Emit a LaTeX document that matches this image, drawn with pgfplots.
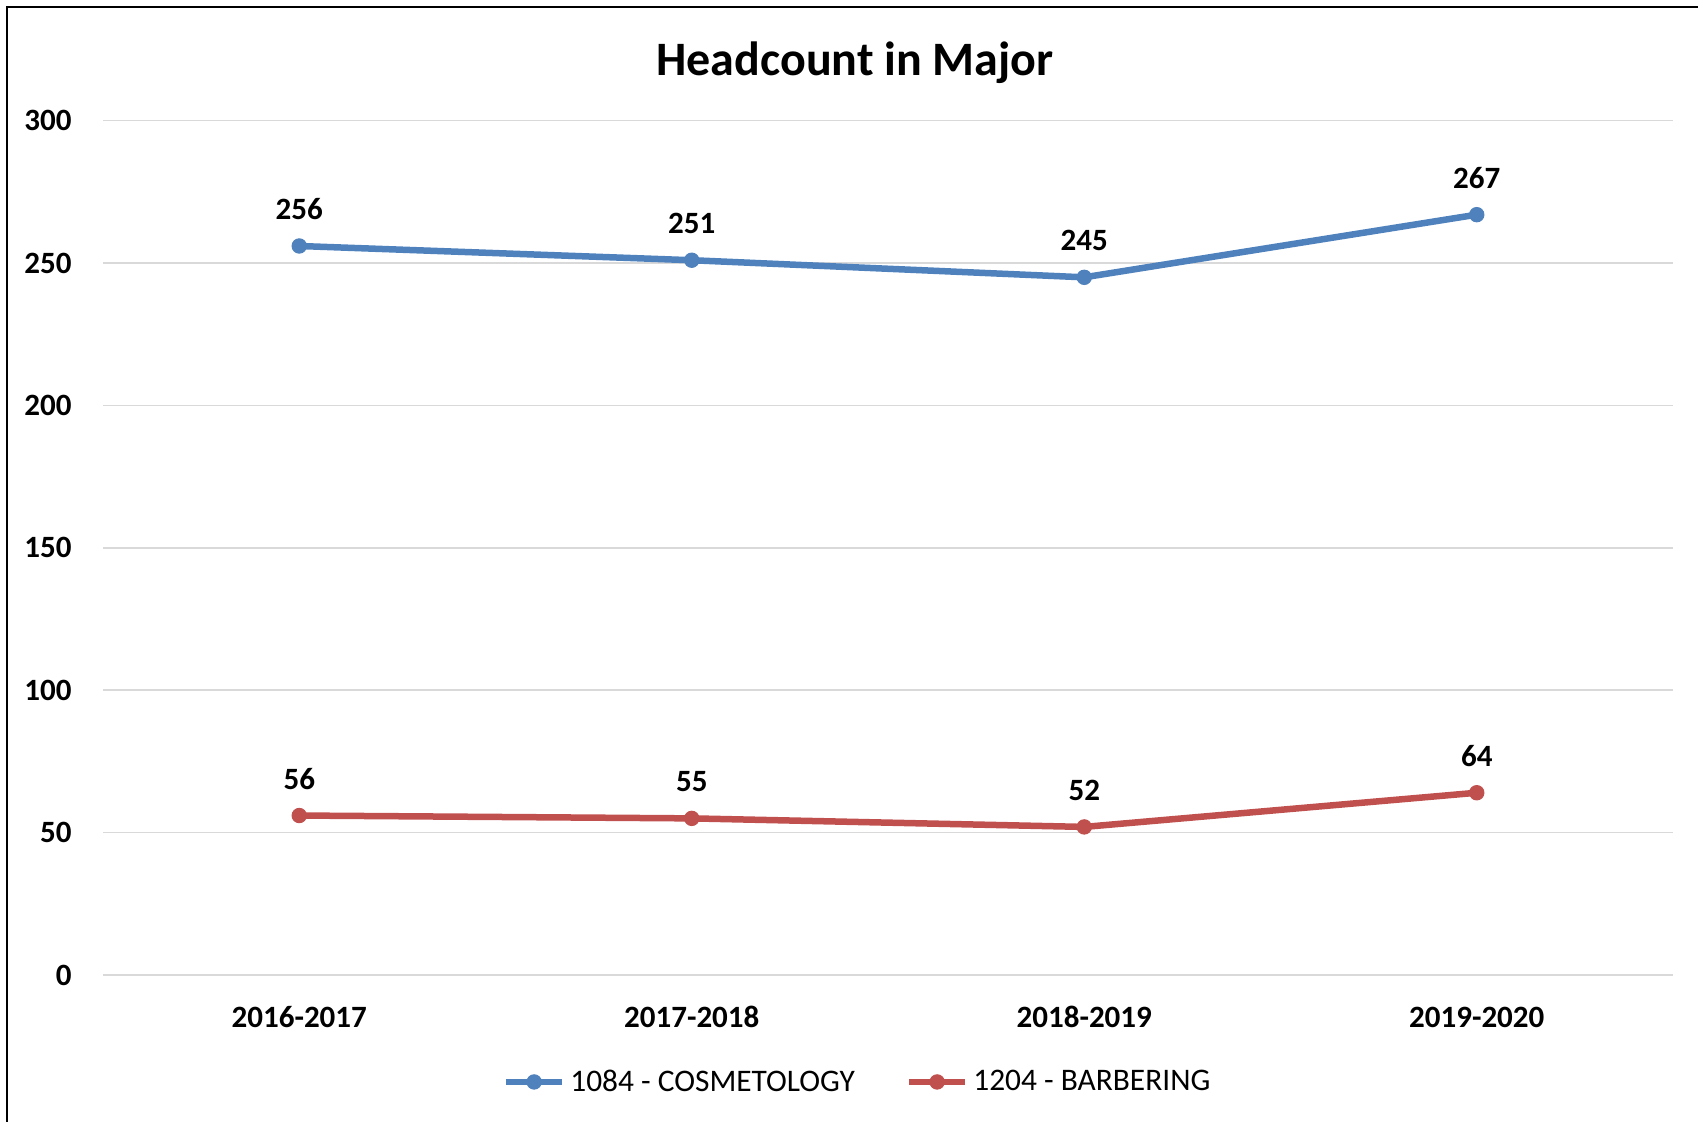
\documentclass[border=0pt]{standalone}
\usepackage{fontspec}
\setmainfont{Carlito}
\usepackage{pgfplots}
\pgfplotsset{compat=1.18}
\definecolor{xlblue}{HTML}{4F81BD}
\definecolor{xlred}{HTML}{C0504D}
\definecolor{xlgrid}{HTML}{D9D9D9}
\begin{document}
\begin{tikzpicture}
\path[use as bounding box] (0,0) rectangle (849bp,561bp);
\draw[line width=1.2bp, black] (3.5bp,0) -- (3.5bp,557.35bp) -- (849bp,557.35bp);
\begin{axis}[
  at={(51.5bp,73.5bp)}, anchor=south west,
  scale only axis, width=785bp, height=427.15bp,
  xmin=-0.5, xmax=3.5, ymin=0, ymax=300,
  xtick={0,1,2,3},
  xticklabels={2016-2017,2017-2018,2018-2019,2019-2020},
  ytick={0,50,100,150,200,250,300},
  axis line style={draw=none},
  major tick length=0pt,
  ymajorgrids, grid style={xlgrid, line width=0.75bp},
  clip=false,
  /pgf/number format/assume math mode=true,
  ticklabel style={font=\bfseries\fontsize{15.5bp}{18bp}\selectfont, inner sep=0pt},
  yticklabel style={anchor=east, xshift=-15.5bp},
  xticklabel style={anchor=base, yshift=-26.35bp},
  title={Headcount in Major},
  title style={at={(0.479,1)}, anchor=base, yshift=16.4bp, inner sep=0pt,
    font=\bfseries\fontsize{24bp}{28bp}\selectfont},
  nodes near coords,
  nodes near coords style={font=\bfseries\fontsize{15.5bp}{18bp}\selectfont, anchor=base, inner sep=0pt, yshift=13.2bp, text=black},
  every axis plot/.append style={line width=3.25bp, mark=*, mark size=3.6bp, mark options={solid, line width=0.5bp}},
  legend columns=2,
  legend style={at={(0.48,-0.1252)}, anchor=center, draw=none, fill=none, inner sep=0pt, outer sep=0pt,
    font=\fontsize{15.7bp}{18bp}\selectfont,
    nodes={inner sep=0pt},
    /tikz/every odd column/.append style={column sep=2.5bp},
    /tikz/every even column/.append style={column sep=25.5bp}},
  legend image code/.code={\draw[mark repeat=2, mark phase=2] plot coordinates {(0bp,0bp) (14bp,0bp) (28bp,0bp)};},
]
\addplot[color=xlblue] coordinates {(0,256) (1,251) (2,245) (3,267)};
\addlegendentry{1084 - COSMETOLOGY}
\addplot[color=xlred] coordinates {(0,56) (1,55) (2,52) (3,64)};
\addlegendentry{1204 - BARBERING}
\end{axis}
\end{tikzpicture}
\end{document}
